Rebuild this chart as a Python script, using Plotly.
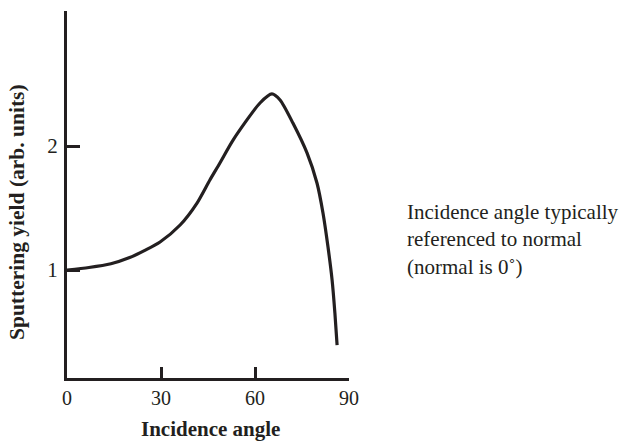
import plotly.graph_objects as go

# Data
angle = [0, 7, 14, 20, 25, 29.7, 36.1, 41.5, 45.6, 48.8, 53.0, 61.6, 65.4, 68.0, 72.1, 76.6, 79.8, 81.7, 83.3, 84.6, 85.5, 86.2]
yield_ = [1.0, 1.02, 1.05, 1.1, 1.16, 1.226, 1.363, 1.54, 1.726, 1.863, 2.048, 2.347, 2.42, 2.371, 2.185, 1.944, 1.70, 1.46, 1.185, 0.92, 0.653, 0.395]
x_ticks = [0, 30, 60, 90]
y_ticks = [1, 2]
x_title = "Incidence angle"
y_title = "Sputtering yield (arb. units)"
note = "Incidence angle typically<br>referenced to normal<br>(normal is 0˚)"

INK = "#231f20"
SERIF = "Liberation Serif"

W, H = 621, 443
L, R, T, B = 67, 272, 11, 65
pw = W - L - R
ph = H - T - B

def px(p):
    return (p - L) / pw

def py(p):
    return (H - B - p) / ph

fig = go.Figure()
fig.add_trace(go.Scatter(
    x=angle, y=yield_, mode="lines",
    line=dict(color=INK, width=3.2, shape="spline", smoothing=0.7),
    hoverinfo="skip", showlegend=False,
))

fig.update_layout(
    width=W, height=H,
    margin=dict(l=L, r=R, t=T, b=B, pad=0),
    paper_bgcolor="white", plot_bgcolor="white",
    font=dict(family=SERIF, color=INK, size=20),
    xaxis=dict(
        range=[0, 90], tickvals=x_ticks, ticktext=[str(v) for v in x_ticks],
        showline=True, linecolor=INK, linewidth=3,
        ticks="inside", ticklen=11, tickwidth=2.5, tickcolor=INK,
        showgrid=False, zeroline=False, fixedrange=True,
        tickfont=dict(family=SERIF, size=20, color=INK),
        ticklabelstandoff=0,
    ),
    yaxis=dict(
        range=[0.129, 3.089], tickvals=y_ticks, ticktext=[str(v) for v in y_ticks],
        showline=True, linecolor=INK, linewidth=3,
        ticks="inside", ticklen=13, tickwidth=2.5, tickcolor=INK,
        showgrid=False, zeroline=False, fixedrange=True,
        tickfont=dict(family=SERIF, size=21, color=INK),
        ticklabelstandoff=2,
    ),
    annotations=[
        dict(text="<b>" + x_title + "</b>", xref="paper", yref="paper",
             x=px(210), y=py(429), xanchor="center", yanchor="middle",
             showarrow=False, font=dict(family=SERIF, size=21, color=INK)),
        dict(text="<b>" + y_title + "</b>", xref="paper", yref="paper",
             x=px(17), y=py(212), xanchor="center", yanchor="middle",
             textangle=-90, showarrow=False,
             font=dict(family=SERIF, size=21.5, color=INK)),
        dict(text=note, xref="paper", yref="paper",
             x=px(405), y=py(239), xanchor="left", yanchor="middle",
             align="left", showarrow=False,
             font=dict(family=SERIF, size=21, color=INK)),
    ],
)

fig.write_html("out.html")
